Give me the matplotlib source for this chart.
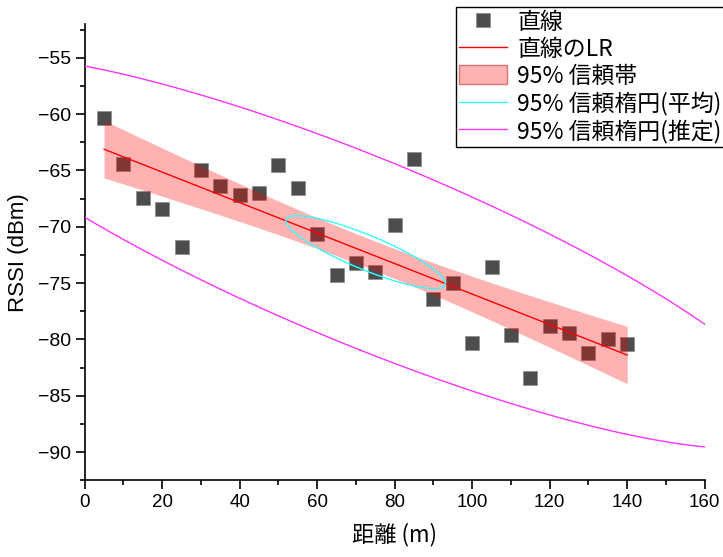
import numpy as np
import matplotlib
matplotlib.use('Agg')
import matplotlib.pyplot as plt
from matplotlib import font_manager
from matplotlib.lines import Line2D
from matplotlib.patches import Patch

# data
distance = [5, 10, 15, 20, 25, 30, 35, 40, 45, 50, 55, 60, 65, 70,
            75, 80, 85, 90, 95, 100, 105, 110, 115, 120, 125, 130, 135, 140]
rssi = [-60.3, -64.4, -67.4, -68.4, -71.8, -65.0, -66.4, -67.2, -67.0, -64.5,
        -66.6, -70.6, -74.3, -73.2, -74.0, -69.8, -64.0, -76.4, -75.0, -80.3,
        -73.6, -79.6, -83.4, -78.8, -79.4, -81.2, -80.0, -80.4]

legend_labels = ['直線', '直線のLR', '95% 信頼帯', '95% 信頼楕円(平均)', '95% 信頼楕円(推定)']

names = {f.name for f in font_manager.fontManager.ttflist}
num_font = 'Liberation Sans Narrow' if 'Liberation Sans Narrow' in names else 'Liberation Sans'
jp = ['Noto Sans CJK JP', 'DejaVu Sans']

x = np.array(distance, dtype=float)
y = np.array(rssi, dtype=float)
n = len(x)

# linear fit + 95% confidence band of the mean
slope, intercept = np.polyfit(x, y, 1)
resid = y - (slope * x + intercept)
s = np.sqrt(np.sum(resid ** 2) / (n - 2))
t_crit = 2.0555  # t(0.975, 26)
xbar = x.mean()
sxx = np.sum((x - xbar) ** 2)
xf = np.linspace(x.min(), x.max(), 200)
yf = slope * xf + intercept
half = t_crit * s * np.sqrt(1.0 / n + (xf - xbar) ** 2 / sxx)

# confidence ellipses (mean / prediction)
F = (n - 2) / 2.0 * (0.05 ** (-2.0 / (n - 2)) - 1)  # F(0.95; 2, n-2)
cov = np.cov(x, y)
vals, vecs = np.linalg.eigh(cov)
theta = np.linspace(0, 2 * np.pi, 400)
unit = np.vstack([np.cos(theta), np.sin(theta)])


def ellipse(c):
    pts = vecs @ (np.sqrt(vals)[:, None] * unit) * c
    return pts[0] + xbar, pts[1] + y.mean()


c_mean = np.sqrt(2 * (n - 1) / (n * (n - 2)) * F)
c_pred = np.sqrt(2 * (n + 1) * (n - 1) / (n * (n - 2)) * F)
ex_m, ey_m = ellipse(c_mean)
ex_p, ey_p = ellipse(c_pred)

fig = plt.figure(figsize=(7.23, 5.57), dpi=100)
ax = fig.add_axes([84.7 / 723, 1 - 480.3 / 557, 620 / 723, 456.3 / 557])

ax.scatter(x, y, marker='s', s=90, color='#4d4d4d', edgecolor='#8a8a8a',
           linewidth=0.5, zorder=2)
ax.fill_between(xf, yf - half, yf + half, color=(1, 0, 0, 0.3), linewidth=0, zorder=3)
ax.plot(xf, yf, color='red', lw=1, zorder=4)
ax.plot(ex_m, ey_m, color='#33ffff', lw=1, zorder=4)
ax.plot(ex_p, ey_p, color='#ff33ff', lw=1, zorder=4)

ax.set_xlim(0, 160)
ax.set_ylim(-92.45, -52.0)
ax.set_xticks(np.arange(0, 161, 20))
ax.set_xticks(np.arange(0, 161, 10), minor=True)
ax.set_yticks(np.arange(-90, -54, 5))
ax.set_yticks(np.arange(-92.5, -51, 2.5), minor=True)
for sp in ['top', 'right']:
    ax.spines[sp].set_visible(False)
for sp in ['left', 'bottom']:
    ax.spines[sp].set_linewidth(1.2)
ax.tick_params(which='major', direction='out', length=6.5, width=1.2)
ax.tick_params(which='minor', direction='out', length=3.5, width=1.2)
for lab in ax.get_xticklabels():
    lab.set_fontfamily(num_font)
    lab.set_fontsize(13.5)
for lab in ax.get_yticklabels():
    lab.set_fontfamily(num_font)
    lab.set_fontsize(14)

ax.set_xlabel('距離 (m)', family=jp, fontsize=16, labelpad=8)
ax.set_ylabel('RSSI (dBm)', family='Liberation Sans', fontsize=16, labelpad=6)

handles = [
    Line2D([], [], marker='s', ls='none', color='#4d4d4d', markersize=10,
           markeredgecolor='#8a8a8a', markeredgewidth=0.5),
    Line2D([], [], color='red', lw=1),
    Patch(facecolor=(1, 0, 0, 0.3), edgecolor=(0.85, 0.45, 0.45), linewidth=1),
    Line2D([], [], color='#33ffff', lw=1),
    Line2D([], [], color='#ff33ff', lw=1),
]
leg = fig.legend(handles, legend_labels, loc='upper left',
                 bbox_to_anchor=(455.5 / 723, 1 - 7.3 / 557),
                 prop={'family': jp, 'size': 16.5}, frameon=True, fancybox=False,
                 edgecolor='black', framealpha=1, handlelength=2.1,
                 handleheight=0.9, handletextpad=0.45, borderpad=0.15,
                 labelspacing=0.17, borderaxespad=0)
leg.get_frame().set_linewidth(1.0)

fig.savefig('out.png', dpi=100)
